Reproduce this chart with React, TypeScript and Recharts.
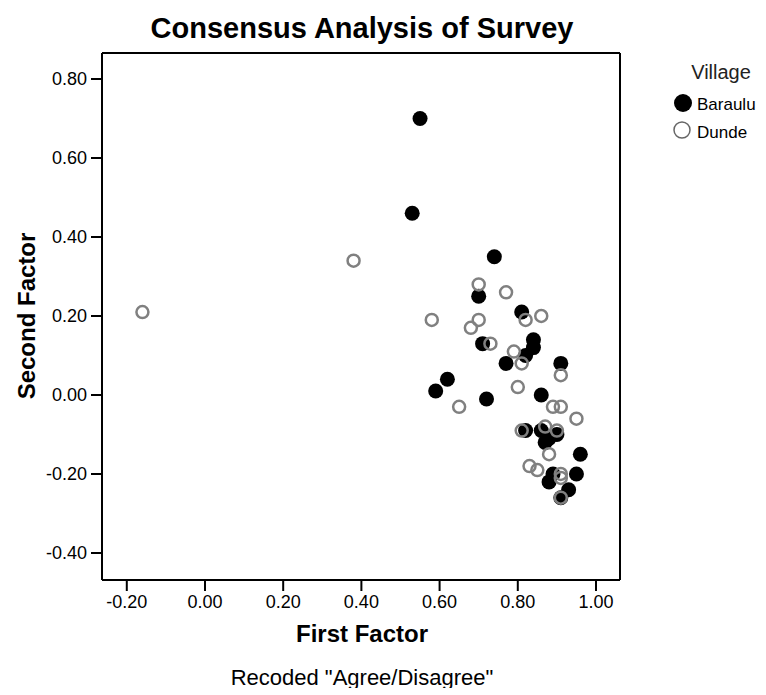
import { ScatterChart, Scatter, XAxis, YAxis, ReferenceLine } from 'recharts'

// First / second factor loadings
const baraulu = [
  { x: 0.55, y: 0.7 },
  { x: 0.53, y: 0.46 },
  { x: 0.74, y: 0.35 },
  { x: 0.7, y: 0.25 },
  { x: 0.81, y: 0.21 },
  { x: 0.71, y: 0.13 },
  { x: 0.84, y: 0.14 },
  { x: 0.84, y: 0.12 },
  { x: 0.82, y: 0.1 },
  { x: 0.77, y: 0.08 },
  { x: 0.91, y: 0.08 },
  { x: 0.62, y: 0.04 },
  { x: 0.59, y: 0.01 },
  { x: 0.72, y: -0.01 },
  { x: 0.86, y: 0.0 },
  { x: 0.82, y: -0.09 },
  { x: 0.86, y: -0.09 },
  { x: 0.88, y: -0.11 },
  { x: 0.9, y: -0.1 },
  { x: 0.87, y: -0.12 },
  { x: 0.96, y: -0.15 },
  { x: 0.95, y: -0.2 },
  { x: 0.89, y: -0.2 },
  { x: 0.88, y: -0.22 },
  { x: 0.93, y: -0.24 },
  { x: 0.91, y: -0.26 },
]

const dunde = [
  { x: -0.16, y: 0.21 },
  { x: 0.38, y: 0.34 },
  { x: 0.7, y: 0.28 },
  { x: 0.77, y: 0.26 },
  { x: 0.82, y: 0.19 },
  { x: 0.86, y: 0.2 },
  { x: 0.7, y: 0.19 },
  { x: 0.68, y: 0.17 },
  { x: 0.58, y: 0.19 },
  { x: 0.73, y: 0.13 },
  { x: 0.79, y: 0.11 },
  { x: 0.81, y: 0.08 },
  { x: 0.91, y: 0.05 },
  { x: 0.8, y: 0.02 },
  { x: 0.65, y: -0.03 },
  { x: 0.89, y: -0.03 },
  { x: 0.91, y: -0.03 },
  { x: 0.95, y: -0.06 },
  { x: 0.81, y: -0.09 },
  { x: 0.87, y: -0.08 },
  { x: 0.9, y: -0.09 },
  { x: 0.88, y: -0.15 },
  { x: 0.83, y: -0.18 },
  { x: 0.85, y: -0.19 },
  { x: 0.91, y: -0.2 },
  { x: 0.91, y: -0.21 },
  { x: 0.91, y: -0.26 },
]

const xTicks = [-0.2, 0, 0.2, 0.4, 0.6, 0.8, 1.0]
const yTicks = [-0.4, -0.2, 0, 0.2, 0.4, 0.6, 0.8]
const X_DOMAIN = [-0.2634, 1.0614]
const Y_DOMAIN = [-0.4684, 0.8658]

const FONT = '"Liberation Sans", Arial, sans-serif'
const RING = '#808080'

const fmt = (v: number) => v.toFixed(2)

const FilledDot = (props: any) => <circle cx={props.cx} cy={props.cy} r={7.5} fill="#000" />
const OpenDot = (props: any) => (
  <circle cx={props.cx} cy={props.cy} r={6} fill="none" stroke={RING} strokeWidth={2.5} />
)

function VillageLegend() {
  return (
    <svg
      width={100}
      height={90}
      style={{ fontFamily: FONT, display: 'block', position: 'absolute', left: 656, top: 48 }}
    >
      <text x={57} y={23} textAnchor="middle" fontSize={20} fill="#222">Village</text>
      <circle cx={19} cy={47} r={9} fill="#000" />
      <text x={33} y={54} fontSize={17} fill="#000">Baraulu</text>
      <circle cx={18} cy={74} r={8} fill="none" stroke="#666" strokeWidth={1.5} />
      <text x={33} y={82} fontSize={17} fill="#000">Dunde</text>
    </svg>
  )
}

export default function App() {
  const tick = { fill: '#000', fontSize: 18, fontFamily: FONT }
  return (
    <div style={{ position: 'relative', width: 750, height: 680, fontFamily: FONT }}>
      <div style={{ position: 'absolute', left: 0, width: 708, top: 4, textAlign: 'center', fontSize: 29, fontWeight: 'bold' }}>
        Consensus Analysis of Survey
      </div>
      <ScatterChart width={750} height={680} margin={{ top: 45, right: 138, left: 24, bottom: 68 }}>
        <XAxis
          type="number"
          dataKey="x"
          domain={X_DOMAIN}
          ticks={xTicks}
          tickFormatter={fmt}
          allowDataOverflow
          height={40}
          stroke="#000"
          strokeWidth={2}
          tickSize={11}
          tickMargin={4}
          tick={tick}
        />
        <YAxis
          type="number"
          dataKey="y"
          domain={Y_DOMAIN}
          ticks={yTicks}
          tickFormatter={fmt}
          allowDataOverflow
          width={70}
          stroke="#000"
          strokeWidth={2}
          tickSize={11}
          tickMargin={4}
          tick={tick}
        />
        <ReferenceLine x={X_DOMAIN[1]} stroke="#000" strokeWidth={2} />
        <ReferenceLine y={Y_DOMAIN[1]} stroke="#000" strokeWidth={2} />
        <Scatter name="Baraulu" data={baraulu} shape={FilledDot} isAnimationActive={false} />
        <Scatter name="Dunde" data={dunde} shape={OpenDot} isAnimationActive={false} />
      </ScatterChart>
      <VillageLegend />
      <div style={{ position: 'absolute', left: 94, width: 520, top: 612, textAlign: 'center', fontSize: 24, fontWeight: 'bold' }}>
        First Factor
      </div>
      <div style={{ position: 'absolute', left: 0, width: 708, top: 657, textAlign: 'center', fontSize: 22 }}>
        Recoded "Agree/Disagree"
      </div>
      <div
        style={{
          position: 'absolute',
          left: 19,
          top: 308,
          transform: 'translate(-50%, -50%) rotate(-90deg)',
          whiteSpace: 'nowrap',
          fontSize: 24,
          fontWeight: 'bold',
        }}
      >
        Second Factor
      </div>
    </div>
  )
}
